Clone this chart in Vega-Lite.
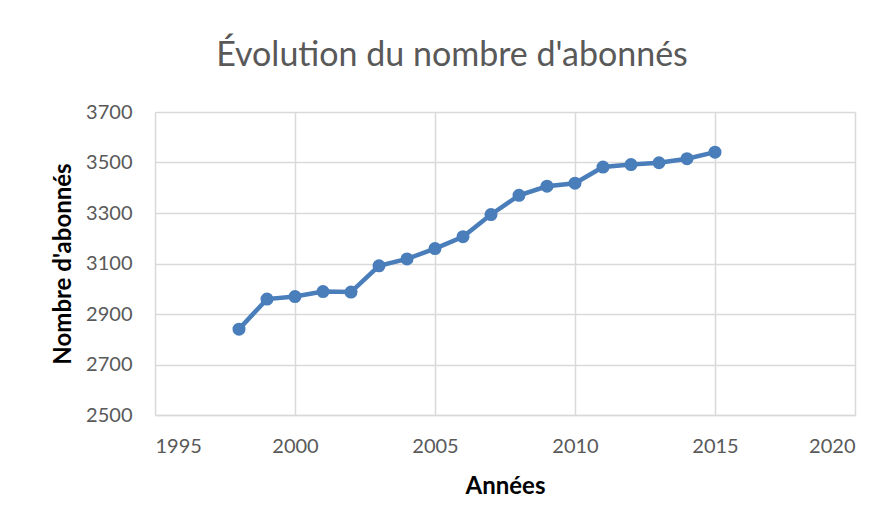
{
  "$schema": "https://vega.github.io/schema/vega-lite/v6.json",
  "autosize": "none",
  "width": 700,
  "height": 303,
  "padding": {"left": 155, "top": 112, "right": 41, "bottom": 114},
  "background": "white",
  "config": {
    "font": "Lato",
    "view": {"stroke": null}
  },
  "title": {
    "text": "Évolution du nombre d'abonnés",
    "fontSize": 34,
    "font": "Lato",
    "fontWeight": "normal",
    "color": "#595959",
    "anchor": "middle",
    "offset": 29,
    "dx": -53
  },
  "data": {
    "values": [
      {"annee": 1998, "abonnes": 2840},
      {"annee": 1999, "abonnes": 2959},
      {"annee": 2000, "abonnes": 2969},
      {"annee": 2001, "abonnes": 2989},
      {"annee": 2002, "abonnes": 2987},
      {"annee": 2003, "abonnes": 3091},
      {"annee": 2004, "abonnes": 3118},
      {"annee": 2005, "abonnes": 3159},
      {"annee": 2006, "abonnes": 3206},
      {"annee": 2007, "abonnes": 3294},
      {"annee": 2008, "abonnes": 3370},
      {"annee": 2009, "abonnes": 3406},
      {"annee": 2010, "abonnes": 3418},
      {"annee": 2011, "abonnes": 3482},
      {"annee": 2012, "abonnes": 3492},
      {"annee": 2013, "abonnes": 3499},
      {"annee": 2014, "abonnes": 3515},
      {"annee": 2015, "abonnes": 3541}
    ]
  },
  "encoding": {
    "x": {
      "field": "annee",
      "type": "quantitative",
      "scale": {"domain": [1995, 2020], "nice": false, "zero": false},
      "axis": {
        "values": [1995, 2000, 2005, 2010, 2015, 2020],
        "format": "d",
        "title": "Années",
        "titleFontSize": 24,
        "titleFontWeight": "bold",
        "titleColor": "#000000",
        "titlePadding": 18,
        "labelFontSize": 20,
        "labelColor": "#595959",
        "labelPadding": 21,
        "ticks": false,
        "domain": true,
        "domainColor": "#d9d9d9",
        "domainWidth": 1.5,
        "grid": true,
        "gridColor": "#d9d9d9",
        "gridWidth": 1.5
      }
    },
    "y": {
      "field": "abonnes",
      "type": "quantitative",
      "scale": {"domain": [2500, 3700], "nice": false, "zero": false},
      "axis": {
        "values": [2500, 2700, 2900, 3100, 3300, 3500, 3700],
        "format": "d",
        "title": "Nombre d'abonnés",
        "titleFontSize": 24,
        "titleFontWeight": "bold",
        "titleColor": "#000000",
        "titlePadding": 10,
        "labelFontSize": 20,
        "labelColor": "#595959",
        "labelPadding": 23,
        "ticks": false,
        "domain": false,
        "grid": true,
        "gridColor": "#d9d9d9",
        "gridWidth": 1.5
      }
    }
  },
  "layer": [
    {
      "mark": {"type": "line", "color": "#4a7ebb", "strokeWidth": 4.5}
    },
    {
      "mark": {"type": "point", "filled": true, "color": "#4a7ebb", "opacity": 1, "size": 170}
    }
  ]
}
